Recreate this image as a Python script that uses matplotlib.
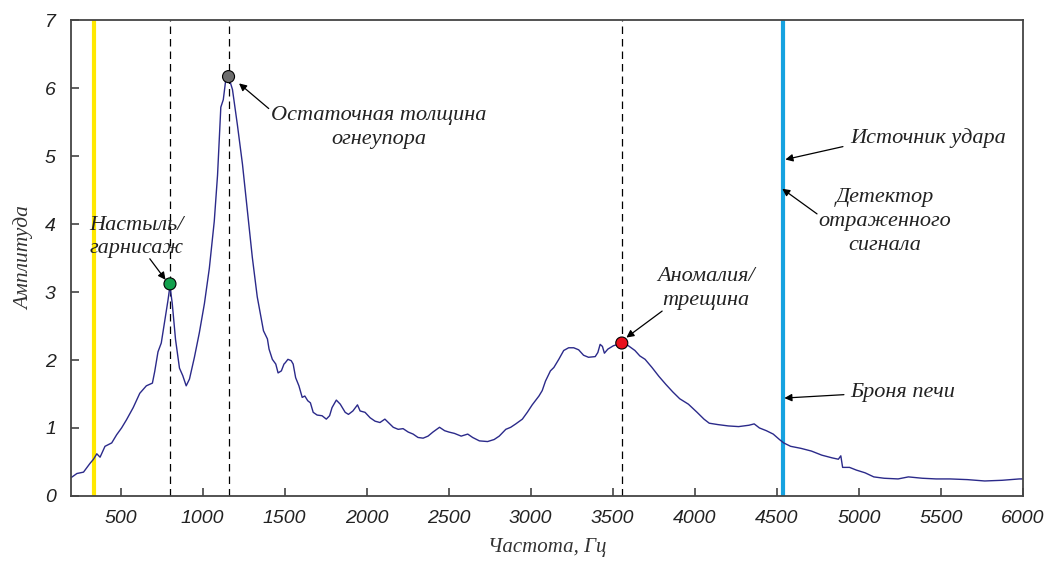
import matplotlib
matplotlib.use("Agg")
import matplotlib.pyplot as plt

# spectrum (frequency, Hz / amplitude)
freq = [199, 234, 274, 314, 335, 355, 375, 405, 446, 476, 506, 536, 577, 617, 657,
        694, 708, 728, 748, 768, 789, 801, 815, 835, 859, 879, 900, 920, 950, 980,
        1011, 1041, 1071, 1091, 1111, 1126, 1142, 1158, 1182, 1212, 1243, 1273,
        1303, 1333, 1371, 1395, 1405, 1425, 1446, 1460, 1480, 1496, 1504, 1520,
        1540, 1552, 1567, 1587, 1607, 1623, 1641, 1657, 1674, 1698, 1728, 1754,
        1774, 1789, 1815, 1839, 1869, 1889, 1916, 1944, 1960, 1990, 2021, 2051,
        2081, 2111, 2132, 2162, 2192, 2222, 2253, 2283, 2313, 2344, 2374, 2404,
        2444, 2475, 2501, 2535, 2576, 2616, 2646, 2687, 2737, 2777, 2808, 2848,
        2878, 2909, 2949, 2979, 3009, 3050, 3070, 3090, 3120, 3141, 3171, 3201,
        3231, 3262, 3292, 3322, 3352, 3393, 3409, 3423, 3437, 3449, 3470, 3504,
        3534, 3555, 3595, 3635, 3665, 3697, 3739, 3781, 3824, 3866, 3908, 3961,
        4014, 4056, 4088, 4140, 4204, 4267, 4330, 4362, 4394, 4436, 4478, 4516,
        4542, 4584, 4647, 4711, 4774, 4837, 4875, 4890, 4901, 4943, 4985, 5038,
        5091, 5154, 5239, 5302, 5387, 5471, 5556, 5661, 5767, 5873, 5978, 6000]
amp = [0.27, 0.33, 0.35, 0.48, 0.54, 0.62, 0.57, 0.73, 0.78, 0.90, 1.00, 1.12, 1.30,
       1.51, 1.62, 1.66, 1.83, 2.12, 2.25, 2.56, 2.88, 3.09, 2.83, 2.30, 1.88, 1.77,
       1.62, 1.72, 2.04, 2.40, 2.83, 3.35, 4.04, 4.72, 5.72, 5.83, 6.14, 6.17, 5.98,
       5.46, 4.88, 4.19, 3.51, 2.93, 2.43, 2.31, 2.16, 2.01, 1.94, 1.81, 1.84, 1.94,
       1.96, 2.01, 1.99, 1.94, 1.74, 1.62, 1.45, 1.47, 1.40, 1.37, 1.23, 1.19, 1.18,
       1.13, 1.18, 1.30, 1.41, 1.35, 1.23, 1.20, 1.25, 1.34, 1.25, 1.23, 1.15, 1.10,
       1.08, 1.13, 1.08, 1.01, 0.98, 0.99, 0.94, 0.91, 0.86, 0.85, 0.88, 0.94, 1.01,
       0.96, 0.94, 0.92, 0.88, 0.91, 0.86, 0.81, 0.80, 0.83, 0.88, 0.98, 1.01, 1.06,
       1.13, 1.23, 1.34, 1.47, 1.55, 1.69, 1.84, 1.89, 2.01, 2.14, 2.18, 2.18, 2.15,
       2.07, 2.04, 2.05, 2.11, 2.23, 2.20, 2.10, 2.16, 2.21, 2.23, 2.25, 2.21, 2.14,
       2.06, 2.01, 1.89, 1.76, 1.64, 1.53, 1.43, 1.35, 1.23, 1.13, 1.07, 1.05, 1.03,
       1.02, 1.04, 1.06, 1.00, 0.96, 0.91, 0.83, 0.78, 0.73, 0.70, 0.66, 0.60, 0.56,
       0.54, 0.59, 0.42, 0.42, 0.38, 0.34, 0.28, 0.26, 0.25, 0.28, 0.26, 0.25, 0.25,
       0.24, 0.22, 0.23, 0.25, 0.25]

# marked peaks
peak_f = [801, 1158, 3555]
peak_a = [3.12, 6.17, 2.25]
peak_colors = ["#12a04c", "#6e6e6e", "#e8101c"]

yellow_f = 335
blue_f = 4535

serif = ["Liberation Serif", "DejaVu Serif"]
sans = ["Liberation Sans", "DejaVu Sans"]

fig = plt.figure(figsize=(10.47, 5.61), dpi=100)
ax = fig.add_axes([0.068, 0.116, 0.909, 0.848])

ax.axvline(yellow_f, color="#ffe800", lw=3, zorder=1)
ax.axvline(blue_f, color="#16a2e0", lw=3, zorder=1)
for f in peak_f:
    ax.axvline(f, color="black", lw=0.9, ls=(0, (6, 4)), zorder=1)

ax.plot(freq, amp, color="#2b2a8a", lw=1.0, zorder=2)
ax.scatter(peak_f, peak_a, s=75, c=peak_colors, edgecolors="black",
           linewidths=0.8, zorder=3)

ax.set_xlim(199, 6000)
ax.set_ylim(0, 7)
ax.set_xticks(range(500, 6001, 500))
ax.set_yticks(range(0, 8))

for s in ["left", "bottom", "right", "top"]:
    ax.spines[s].set_color("#444444")
    ax.spines[s].set_linewidth(1.3)
ax.tick_params(direction="in", length=6, width=1.2, color="#444444",
               top=False, right=False)
for lab in ax.get_xticklabels() + ax.get_yticklabels():
    lab.set_family(sans)
    lab.set_style("italic")
    lab.set_fontsize(14)
    lab.set_color("#222222")
ax.tick_params(axis="x", pad=10)
ax.tick_params(axis="y", pad=11)

ax.set_xlabel("Частота, Гц", family=serif, style="italic", fontsize=15,
              color="#333333", labelpad=8)
ax.set_ylabel("Амплитуда", family=serif, style="italic", fontsize=15.5,
              color="#333333", labelpad=8)

txt = dict(family=serif, style="italic", fontsize=16, color="#222222",
           linespacing=1.35)
arrow = dict(arrowstyle="-|>", color="black", lw=0.9, mutation_scale=11,
             shrinkA=0, shrinkB=0)

ax.text(595, 3.81, "Настыль/\nгарнисаж", ha="center", va="center", **txt)
ax.annotate("", xy=(774, 3.18), xytext=(678, 3.49), arrowprops=arrow)

ax.text(2076, 5.42, "Остаточная толщина\nогнеупора", ha="center", va="center", **txt)
ax.annotate("", xy=(1222, 6.07), xytext=(1403, 5.70), arrowprops=arrow)

ax.text(4067, 3.05, "Аномалия/\nтрещина", ha="center", va="center", **txt)
ax.annotate("", xy=(3583, 2.33), xytext=(3801, 2.72), arrowprops=arrow)

ax.text(4945, 5.27, "Источник удара", ha="left", va="center", **txt)
ax.annotate("", xy=(4552, 4.95), xytext=(4903, 5.14), arrowprops=arrow)

ax.text(5157, 4.04, "Детектор\nотраженного\nсигнала", ha="center", va="center", **txt)
ax.annotate("", xy=(4533, 4.52), xytext=(4745, 4.15), arrowprops=arrow)

ax.text(4945, 1.52, "Броня печи", ha="left", va="center", **txt)
ax.annotate("", xy=(4546, 1.44), xytext=(4909, 1.49), arrowprops=arrow)

fig.savefig("out.png", dpi=100)
